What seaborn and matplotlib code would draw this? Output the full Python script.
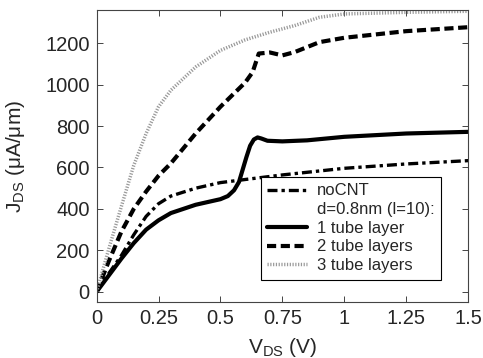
import seaborn as sns
import matplotlib.pyplot as plt
from matplotlib.lines import Line2D
import pandas as pd

# values
v_nocnt = [0, 0.05, 0.1, 0.15, 0.2, 0.25, 0.3, 0.4, 0.5, 0.6, 0.75, 1.0, 1.25, 1.5]
j_nocnt = [0, 90, 175, 275, 364, 425, 462, 500, 527, 542, 564, 596, 617, 633]

v_one = [0, 0.05, 0.1, 0.15, 0.2, 0.25, 0.3, 0.4, 0.5, 0.53, 0.555, 0.575, 0.59, 0.605, 0.62, 0.635,
         0.65, 0.665, 0.69, 0.75, 0.85, 1.0, 1.25, 1.5]
j_one = [0, 80, 160, 235, 300, 345, 380, 420, 447, 462, 490, 530, 590, 650, 705, 735,
         745, 740, 729, 726, 731, 748, 764, 772]

v_two = [0, 0.05, 0.1, 0.15, 0.2, 0.25, 0.3, 0.4, 0.5, 0.6, 0.63, 0.655, 0.7, 0.75, 0.8, 0.9, 1.0, 1.25, 1.5]
j_two = [0, 150, 290, 400, 484, 560, 620, 764, 893, 1010, 1060, 1150, 1155, 1141, 1157, 1205, 1226, 1258, 1277]

v_three = [0, 0.05, 0.1, 0.15, 0.2, 0.25, 0.3, 0.4, 0.5, 0.6, 0.7, 0.8, 0.9, 1.0, 1.25, 1.5]
j_three = [0, 210, 412, 610, 764, 893, 973, 1085, 1165, 1216, 1253, 1285, 1325, 1341, 1349, 1354]

labels = ['noCNT', '1 tube layer', '2 tube layers', '3 tube layers']
header = 'd=0.8nm (l=10):'

sns.set_style('ticks')
plt.rcParams['font.family'] = ['Liberation Sans', 'DejaVu Sans']
plt.rcParams['mathtext.default'] = 'regular'

fig = plt.figure(figsize=(4.83, 3.58), dpi=100)
ax = fig.add_axes([0.200, 0.156, 0.769, 0.816])

styles = [
    dict(color='black', lw=2.4, linestyle=(0, (3, 1.2, 1, 1.2))),
    dict(color='black', lw=3.0, linestyle='-'),
    dict(color='black', lw=3.0, linestyle=(0, (2.2, 1.1))),
    dict(color='#999999', lw=2.5, linestyle=(0, (0.35, 0.45))),
]
series = [(v_nocnt, j_nocnt), (v_one, j_one), (v_two, j_two), (v_three, j_three)]
for (x, y), lab, st in zip(series, labels, styles):
    df = pd.DataFrame({'V': x, 'J': y})
    sns.lineplot(data=df, x='V', y='J', ax=ax, label=lab, **st)

ax.set_xlim(0, 1.5)
ax.set_ylim(-50, 1360)
ax.set_xticks([0, 0.25, 0.5, 0.75, 1, 1.25, 1.5])
ax.set_xticklabels(['0', '0.25', '0.5', '0.75', '1', '1.25', '1.5'])
ax.set_yticks([0, 200, 400, 600, 800, 1000, 1200])
ax.tick_params(direction='in', top=True, right=True, labelsize=14.5, length=4, width=0.6, pad=5)
for s in ax.spines.values():
    s.set_linewidth(0.8)
    s.set_color('#444444')

ax.set_xlabel('V$_{DS}$ (V)', fontsize=15, labelpad=6)
ax.set_ylabel('J$_{DS}$ (\u03bcA/\u03bcm)', fontsize=15, labelpad=13)

h = [Line2D([], [], **styles[0]), Line2D([], [], color='none'),
     Line2D([], [], **styles[1]), Line2D([], [], **styles[2]), Line2D([], [], **styles[3])]
lab = [labels[0], header, labels[1], labels[2], labels[3]]
leg = ax.legend(h, lab, loc='lower right', bbox_to_anchor=(0.951, 0.048), fontsize=12,
                frameon=True, fancybox=False, edgecolor='black', framealpha=1,
                handlelength=2.4, handletextpad=0.6, labelspacing=0.22, borderpad=0.4)
leg.get_frame().set_linewidth(0.8)

fig.savefig('out.png', dpi=100)
